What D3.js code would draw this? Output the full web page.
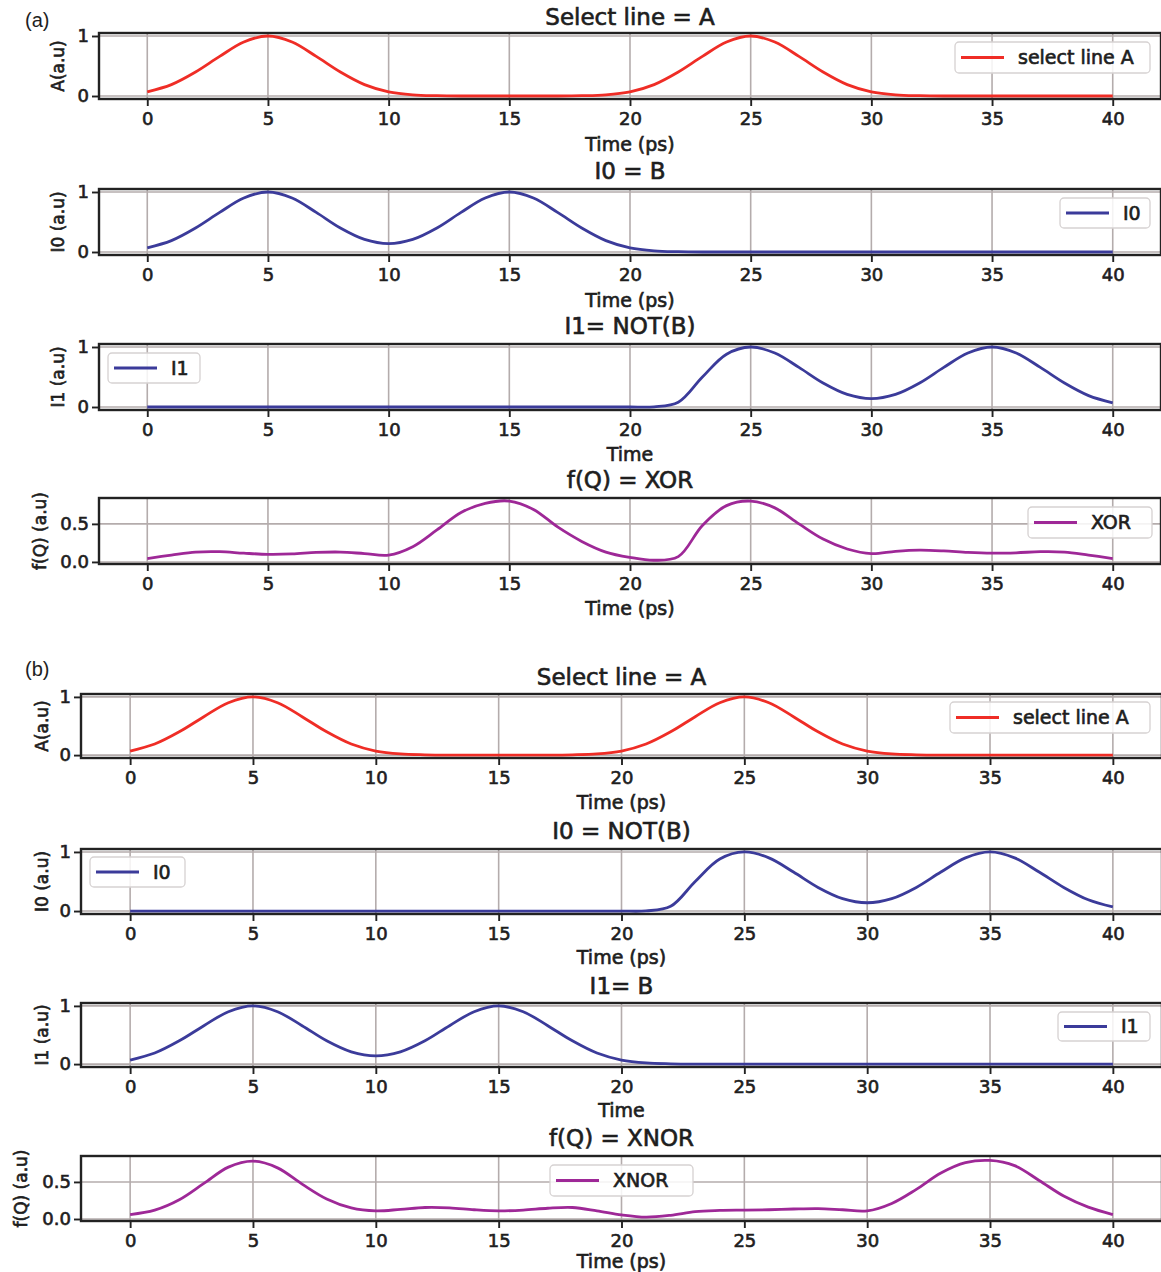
<!DOCTYPE html>
<html>
<head>
<meta charset="utf-8">
<script src="https://cdn.jsdelivr.net/npm/d3@7"></script>
<style>
  html, body { margin: 0; padding: 0; background: #fff; }
  svg { display: block; }
  text { font-family: "DejaVu Sans", sans-serif; fill: #1e1e1e; }
  .tx { stroke: #1e1e1e; stroke-width: 0.65px; }
</style>
</head>
<body>
<svg id="chart" width="1161" height="1272"></svg>
<script>
// ---------------- DATA ----------------
const time = [0,1,2,3,4,5,6,7,8,9,10,11,12,13,14,15,16,17,18,19,20,21,22,23,24,25,26,27,28,29,30,31,32,33,34,35,36,37,38,39,40];

const selectA = [0.07,0.19,0.40,0.66,0.90,1.00,0.90,0.66,0.40,0.19,0.07,0.02,0.005,0,0,0,0,0,0.005,0.02,
                 0.07,0.19,0.40,0.66,0.90,1.00,0.90,0.66,0.40,0.19,0.07,0.02,0.005,0,0,0,0,0,0,0,0];

const signalB = [0.07,0.19,0.40,0.66,0.90,1.00,0.90,0.66,0.40,0.21,0.14,0.21,0.40,0.66,0.90,1.00,0.90,0.66,0.40,0.19,
                 0.07,0.02,0.005,0,0,0,0,0,0,0,0,0,0,0,0,0,0,0,0,0,0];

const signalNotB = [0,0,0,0,0,0,0,0,0,0,0,0,0,0,0,0,0,0,0,0,0,0.003,0.08,0.50,0.88,1.00,0.90,0.66,0.40,0.21,
                    0.14,0.21,0.40,0.66,0.90,1.00,0.90,0.66,0.40,0.19,0.07];

const xorOut = [0.045,0.09,0.13,0.135,0.115,0.10,0.105,0.125,0.13,0.11,0.09,0.20,0.42,0.65,0.77,0.80,0.69,0.46,0.27,0.13,
                0.06,0.022,0.07,0.48,0.74,0.80,0.71,0.50,0.30,0.17,0.11,0.14,0.155,0.145,0.125,0.115,0.12,0.135,0.13,0.09,0.045];

const xnorOut = [0.06,0.12,0.26,0.48,0.70,0.78,0.69,0.47,0.27,0.15,0.11,0.13,0.155,0.15,0.125,0.11,0.12,0.145,0.155,0.11,
                 0.055,0.025,0.05,0.10,0.115,0.12,0.125,0.135,0.14,0.125,0.11,0.21,0.40,0.62,0.76,0.79,0.72,0.52,0.31,0.16,0.06];

const xTicks = [0,5,10,15,20,25,30,35,40];
const yTicksBinary = [0,1];
const yTickLabelsBinary = ["0","1"];
const yTicksFQ = [0,0.5];
const yTickLabelsFQ = ["0.0","0.5"];

const groupLabels = ["(a)","(b)"];
const titles = ["Select line = A","I0 = B","I1= NOT(B)","f(Q) = XOR",
                "Select line = A","I0 = NOT(B)","I1= B","f(Q) = XNOR"];
const yLabels = ["A(a.u)","I0 (a.u)","I1 (a.u)","f(Q) (a.u)",
                 "A(a.u)","I0 (a.u)","I1 (a.u)","f(Q) (a.u)"];
const xLabels = ["Time (ps)","Time (ps)","Time","Time (ps)",
                 "Time (ps)","Time (ps)","Time","Time (ps)"];
const legendNames = ["select line A","I0","I1","XOR",
                     "select line A","I0","I1","XNOR"];
const seriesData = [selectA, signalB, signalNotB, xorOut,
                    selectA, signalNotB, signalB, xnorOut];

// ---------------- LAYOUT / STYLE ----------------
const RED = "#ef2d26", NAVY = "#3b3b9a", PURPLE = "#9e2897";
const colors = [RED, NAVY, NAVY, PURPLE, RED, NAVY, NAVY, PURPLE];

const layout = [
  {left:99, right:1161, top:33,  bottom:99,  yDom:[-0.05,1.05], fq:false, ylx:58, tOff:8,  xlOff:52, leg:[955,42,195,31]},
  {left:99, right:1161, top:189, bottom:255, yDom:[-0.05,1.05], fq:false, ylx:58, tOff:10, xlOff:52, leg:[1060,198,90,30]},
  {left:99, right:1161, top:344, bottom:410, yDom:[-0.05,1.05], fq:false, ylx:58, tOff:10, xlOff:51, leg:[108,353,92,30]},
  {left:99, right:1161, top:498, bottom:564, yDom:[-0.027,0.84], fq:true, ylx:40, tOff:10, xlOff:51, leg:[1028,507,124,31]},
  {left:81, right:1162, top:694, bottom:758, yDom:[-0.05,1.05], fq:false, ylx:42, tOff:9,  xlOff:51, leg:[950,702,200,31]},
  {left:81, right:1162, top:849, bottom:914, yDom:[-0.05,1.05], fq:false, ylx:42, tOff:10, xlOff:50, leg:[90,857,95,30]},
  {left:81, right:1162, top:1003,bottom:1067,yDom:[-0.05,1.05], fq:false, ylx:42, tOff:9,  xlOff:50, leg:[1058,1012,92,29]},
  {left:81, right:1162, top:1156,bottom:1221,yDom:[-0.027,0.85], fq:true, ylx:21, tOff:10, xlOff:47, leg:[550,1165,143,31]}
];

const svg = d3.select("#chart");
svg.append("rect").attr("width",1161).attr("height",1272).attr("fill","#fff");

// group labels
svg.append("text").attr("x",25).attr("y",27).text(groupLabels[0])
  .style("font-family","'Liberation Sans', Arial, sans-serif").style("font-size","20px");
svg.append("text").attr("x",25).attr("y",676).text(groupLabels[1])
  .style("font-family","'Liberation Sans', Arial, sans-serif").style("font-size","20px");

layout.forEach((L, i) => {
  const x = d3.scaleLinear().domain([-2, 42]).range([L.left, L.right]);
  const y = d3.scaleLinear().domain(L.yDom).range([L.bottom, L.top]);
  const yt = L.fq ? yTicksFQ : yTicksBinary;
  const ytl = L.fq ? yTickLabelsFQ : yTickLabelsBinary;
  const g = svg.append("g");

  // grid
  g.append("g").selectAll("line").data(xTicks).join("line")
    .attr("x1", d => x(d)).attr("x2", d => x(d))
    .attr("y1", L.top).attr("y2", L.bottom)
    .attr("stroke", "#b4acac").attr("stroke-width", 1.6);
  g.append("g").selectAll("line").data(yt).join("line")
    .attr("x1", L.left).attr("x2", L.right)
    .attr("y1", d => y(d)).attr("y2", d => y(d))
    .attr("stroke", "#b4acac").attr("stroke-width", 1.6);

  // data line
  const line = d3.line().x((d, k) => x(time[k])).y(d => y(d)).curve(d3.curveCatmullRom.alpha(0.5));
  g.append("path").datum(seriesData[i]).attr("d", line)
    .attr("fill", "none").attr("stroke", colors[i]).attr("stroke-width", 2.8)
    .attr("stroke-linejoin", "round");

  // frame
  g.append("rect").attr("x", L.left).attr("y", L.top)
    .attr("width", L.right - L.left).attr("height", L.bottom - L.top)
    .attr("fill", "none").attr("stroke", "#222").attr("stroke-width", 2.4);

  // axes
  const xAxis = d3.axisBottom(x).tickValues(xTicks).tickSize(7).tickPadding(6).tickFormat(d3.format("d"));
  const ax = g.append("g").attr("transform", `translate(0,${L.bottom})`).call(xAxis);
  ax.select(".domain").remove();
  ax.selectAll("line").attr("stroke", "#222").attr("stroke-width", 1.9);
  ax.selectAll("text").attr("class", "tx").style("font-size", "18px")
    .style("font-family", "'DejaVu Sans', sans-serif").attr("fill", "#1e1e1e");

  const yAxis = d3.axisLeft(y).tickValues(yt).tickSize(7).tickPadding(3).tickFormat((d, k) => ytl[k]);
  const ay = g.append("g").attr("transform", `translate(${L.left},0)`).call(yAxis);
  ay.select(".domain").remove();
  ay.selectAll("line").attr("stroke", "#222").attr("stroke-width", 1.9);
  ay.selectAll("text").attr("class", "tx").style("font-size", "18px")
    .style("font-family", "'DejaVu Sans', sans-serif").attr("fill", "#1e1e1e");

  // title
  g.append("text").attr("class", "tx").attr("x", (L.left + L.right) / 2).attr("y", L.top - L.tOff)
    .attr("text-anchor", "middle").style("font-size", "23px")
    .text(titles[i]);

  // x label
  g.append("text").attr("class", "tx").attr("x", (L.left + L.right) / 2).attr("y", L.bottom + L.xlOff)
    .attr("text-anchor", "middle").style("font-size", "19px")
    .text(xLabels[i]);

  // y label
  g.append("text").attr("class", "tx")
    .attr("transform", `translate(${L.ylx},${(L.top + L.bottom) / 2}) rotate(-90)`)
    .attr("text-anchor", "middle").attr("dy", "0.35em")
    .style("font-size", "17px")
    .text(yLabels[i]);

  // legend
  const [lx, ly, lw, lh] = L.leg;
  const lg = g.append("g");
  lg.append("rect").attr("x", lx).attr("y", ly).attr("width", lw).attr("height", lh)
    .attr("rx", 4).attr("fill", "#fff").attr("fill-opacity", 0.85)
    .attr("stroke", "#d6d2d2").attr("stroke-width", 1.3);
  lg.append("line").attr("x1", lx + 6).attr("x2", lx + 49)
    .attr("y1", ly + lh / 2).attr("y2", ly + lh / 2)
    .attr("stroke", colors[i]).attr("stroke-width", 2.8);
  lg.append("text").attr("class", "tx").attr("x", lx + 63).attr("y", ly + lh / 2).attr("dy", "0.36em")
    .style("font-size", "19px").text(legendNames[i]);
});
</script>
</body>
</html>
